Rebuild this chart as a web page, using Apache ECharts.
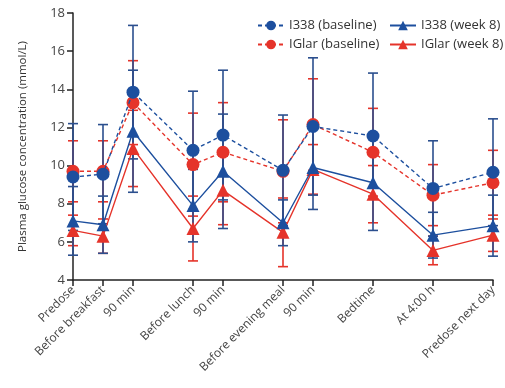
<!DOCTYPE html>
<html>
<head>
<meta charset="utf-8">
<script src="https://cdn.jsdelivr.net/npm/echarts@6/dist/echarts.min.js"></script>
<style>
  html, body { margin: 0; padding: 0; background: #fff; }
  #chart { width: 505px; height: 388px; }
</style>
</head>
<body>
<div id="chart"></div>
<script>
// time slots along the x axis (empty ones are gaps between timepoints)
var slots = ['Predose', 'Before breakfast', '90 min', '', 'Before lunch', '90 min', '',
    'Before evening meal', '90 min', '', 'Bedtime', '', 'At 4:00 h', '', 'Predose next day'];
var xPos = [0, 1, 2, 4, 5, 7, 8, 10, 12, 14];

// means and SDs (mmol/L)
var i338Base = [9.4, 9.55, 13.85, 10.8, 11.6, 9.75, 12.05, 11.55, 8.8, 9.65];
var i338BaseSd = [2.8, 2.6, 3.5, 3.1, 3.4, 2.9, 3.6, 3.3, 2.5, 2.8];
var iglarBase = [9.7, 9.7, 13.3, 10.05, 10.7, 9.7, 12.15, 10.7, 8.45, 9.1];
var iglarBaseSd = [1.6, 1.6, 2.2, 2.7, 2.6, 2.7, 2.4, 2.3, 1.6, 1.7];
var i338Wk8 = [7.1, 6.9, 11.8, 7.9, 9.7, 7.0, 9.9, 9.1, 6.35, 6.85];
var i338Wk8Sd = [1.8, 1.5, 3.2, 1.9, 3.0, 1.2, 2.2, 2.5, 1.2, 1.6];
var iglarWk8 = [6.6, 6.3, 10.9, 6.7, 8.7, 6.5, 9.8, 8.5, 5.55, 6.35];
var iglarWk8Sd = [0.8, 0.9, 2.0, 1.7, 1.8, 1.8, 1.3, 1.5, 0.75, 0.85];

var yTicks = [4, 6, 8, 10, 12, 14, 16, 18];

var BLUE = '#1d4f9e';
var RED = '#e5332a';
var FONT = 'Open Sans';

var chart = echarts.init(document.getElementById('chart'));

function pts(vals) {
    return vals.map(function (v, i) { return [xPos[i], v]; });
}
function bars(vals, sd) {
    return vals.map(function (v, i) { return [xPos[i], v - sd[i], v + sd[i]]; });
}

// vertical SD whiskers with caps
function errSeries(name, vals, sd, color) {
    return {
        name: name + ' SD',
        type: 'custom',
        data: bars(vals, sd),
        encode: { x: 0, y: [1, 2] },
        z: 1,
        silent: true,
        renderItem: function (params, api) {
            var x = api.value(0);
            var lo = api.coord([x, api.value(1)]);
            var hi = api.coord([x, api.value(2)]);
            var w = 5;
            var st = { stroke: color, lineWidth: 1.6 };
            return {
                type: 'group',
                children: [
                    { type: 'line', shape: { x1: lo[0], y1: lo[1], x2: hi[0], y2: hi[1] }, style: st },
                    { type: 'line', shape: { x1: lo[0] - w, y1: lo[1], x2: lo[0] + w, y2: lo[1] }, style: st },
                    { type: 'line', shape: { x1: hi[0] - w, y1: hi[1], x2: hi[0] + w, y2: hi[1] }, style: st }
                ]
            };
        }
    };
}

function lineSeries(name, vals, color, symbol, dashed, z) {
    return {
        name: name,
        type: 'line',
        data: pts(vals),
        symbol: symbol,
        symbolSize: 13,
        z: z,
        itemStyle: { color: color },
        lineStyle: { color: color, width: 1.4, type: dashed ? [4, 3] : 'solid' }
    };
}

var legendText = { fontSize: 13, color: '#333', fontFamily: FONT };

var option = {
    animation: false,
    textStyle: { fontFamily: FONT },
    grid: { left: 73, right: 12, top: 13, bottom: 108 },
    legend: [{
        data: ['I338 (baseline)', 'IGlar (baseline)'],
        orient: 'vertical',
        left: 252, top: 14,
        itemWidth: 26, itemHeight: 12, itemGap: 6,
        textStyle: legendText
    }, {
        data: ['I338 (week 8)', 'IGlar (week 8)'],
        orient: 'vertical',
        left: 384, top: 14,
        itemWidth: 26, itemHeight: 12, itemGap: 6,
        textStyle: legendText
    }],
    xAxis: {
        type: 'category',
        data: slots,
        boundaryGap: false,
        axisLine: { lineStyle: { color: '#222', width: 1.5 } },
        axisTick: {
            length: 6,
            lineStyle: { color: '#222', width: 1.5 },
            interval: function (i, v) { return v !== ''; }
        },
        axisLabel: {
            rotate: 45,
            interval: function (i, v) { return v !== ''; },
            fontSize: 12,
            color: '#444',
            margin: 8
        }
    },
    yAxis: {
        type: 'value',
        min: 4, max: 18, interval: 2,
        name: 'Plasma glucose concentration (mmol/L)',
        nameLocation: 'middle',
        nameGap: 44,
        nameTextStyle: { fontSize: 11.5, color: '#333' },
        splitLine: { show: false },
        axisLine: { show: true, lineStyle: { color: '#222', width: 1.5 } },
        axisTick: { show: true, length: 6, lineStyle: { color: '#222', width: 1.5 } },
        axisLabel: {
            fontSize: 13, color: '#444', margin: 8,
            customValues: yTicks
        }
    },
    series: [
        lineSeries('IGlar (baseline)', iglarBase, RED, 'circle', true, 3),
        lineSeries('IGlar (week 8)', iglarWk8, RED, 'triangle', false, 3),
        lineSeries('I338 (baseline)', i338Base, BLUE, 'circle', true, 4),
        lineSeries('I338 (week 8)', i338Wk8, BLUE, 'triangle', false, 4),
        errSeries('IGlar (week 8)', iglarWk8, iglarWk8Sd, RED),
        errSeries('IGlar (baseline)', iglarBase, iglarBaseSd, RED),
        errSeries('I338 (week 8)', i338Wk8, i338Wk8Sd, '#2b4f8e'),
        errSeries('I338 (baseline)', i338Base, i338BaseSd, '#2b4f8e')
    ]
};

chart.setOption(option);
</script>
</body>
</html>
